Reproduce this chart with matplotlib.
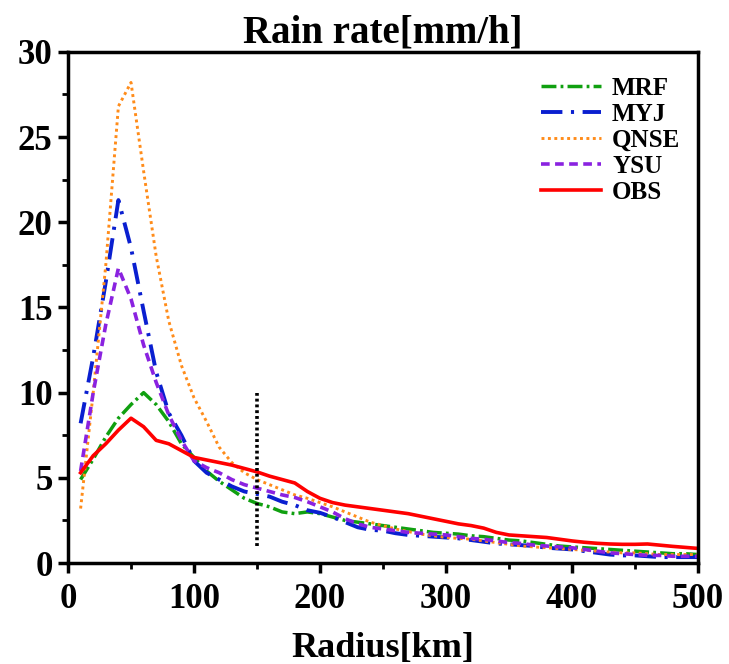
import numpy as np
import matplotlib.pyplot as plt
from matplotlib.ticker import MultipleLocator

plt.rcParams['font.family'] = ['Liberation Serif', 'DejaVu Serif']
plt.rcParams['font.weight'] = 'bold'

# Data (radius in km, rain rate in mm/h)
radius = np.arange(10, 501, 10)

mrf = [4.9, 6.1, 7.4, 8.5, 9.3, 10.0, 9.3, 8.3, 7.0, 6.2,
       5.4, 4.8, 4.3, 3.8, 3.5, 3.3, 3.0, 2.9, 3.0, 2.9,
       2.7, 2.5, 2.4, 2.3, 2.2, 2.1, 2.0, 1.9, 1.8, 1.75,
       1.7, 1.6, 1.55, 1.45, 1.35, 1.3, 1.2, 1.1, 1.0, 0.95,
       0.9, 0.85, 0.8, 0.75, 0.7, 0.65, 0.6, 0.55, 0.55, 0.5]
myj = [8.2, 12.1, 16.5, 21.3, 18.5, 14.8, 11.2, 8.8, 7.5, 6.0,
       5.3, 4.9, 4.5, 4.2, 4.05, 3.9, 3.6, 3.4, 3.1, 2.95,
       2.7, 2.4, 2.1, 1.95, 1.9, 1.75, 1.65, 1.6, 1.55, 1.5,
       1.45, 1.35, 1.25, 1.15, 1.1, 1.05, 1.0, 0.9, 0.85, 0.8,
       0.7, 0.6, 0.5, 0.45, 0.45, 0.4, 0.35, 0.35, 0.35, 0.35]
qnse = [3.2, 10.0, 17.5, 26.8, 28.2, 23.0, 18.0, 14.2, 11.6, 9.7,
        8.3, 6.8, 5.9, 5.3, 4.9, 4.6, 4.3, 4.0, 3.8, 3.55,
        3.3, 3.0, 2.7, 2.4, 2.2, 2.0, 1.85, 1.7, 1.6, 1.5,
        1.45, 1.4, 1.3, 1.2, 1.1, 1.0, 0.95, 0.9, 0.85, 0.8,
        0.75, 0.7, 0.65, 0.6, 0.6, 0.55, 0.5, 0.5, 0.5, 0.5]
ysu = [5.4, 10.0, 14.0, 17.3, 15.5, 12.8, 10.6, 8.7, 7.2, 6.0,
       5.6, 5.3, 4.9, 4.6, 4.4, 4.2, 4.0, 3.85, 3.6, 3.3,
       3.0, 2.6, 2.3, 2.1, 2.0, 1.9, 1.8, 1.75, 1.7, 1.65,
       1.55, 1.45, 1.4, 1.3, 1.2, 1.15, 1.05, 1.0, 0.95, 0.9,
       0.8, 0.7, 0.6, 0.55, 0.5, 0.45, 0.45, 0.4, 0.4, 0.4]
obs = [5.3, 6.3, 7.0, 7.8, 8.5, 8.0, 7.2, 7.0, 6.6, 6.2,
       6.05, 5.9, 5.75, 5.55, 5.35, 5.1, 4.9, 4.7, 4.2, 3.8,
       3.55, 3.4, 3.3, 3.2, 3.1, 3.0, 2.9, 2.75, 2.6, 2.45,
       2.3, 2.2, 2.05, 1.8, 1.65, 1.6, 1.55, 1.5, 1.4, 1.3,
       1.22, 1.16, 1.12, 1.1, 1.1, 1.12, 1.05, 0.98, 0.92, 0.86]

fig = plt.figure(figsize=(7.29, 6.64), dpi=100)
ax = fig.add_axes([0.0933, 0.152, 0.864, 0.770])

ax.plot(radius, mrf, color='#10a010', lw=2.5, dashes=(4.3, 1.2, 0.8, 1.2), label='MRF')
ax.plot(radius, myj, color='#0a1fd0', lw=2.8, dashes=(5.5, 2.2, 0.8, 2.2), label='MYJ')
ax.plot(radius, qnse, color='#ff8c1a', lw=2.1, dashes=(1, 1.2), label='QNSE')
ax.plot(radius, ysu, color='#8a22e0', lw=2.6, dashes=(2.4, 1.5), label='YSU')
ax.plot(radius, obs, color='#ff0000', lw=2.6, label='OBS')

# marker for 150 km radius
ax.plot([150, 150], [1, 10], color='black', lw=2.6, dashes=(0.8, 0.8))

ax.set_xlim(0, 500)
ax.set_ylim(0, 30)
ax.xaxis.set_major_locator(MultipleLocator(100))
ax.xaxis.set_minor_locator(MultipleLocator(50))
ax.yaxis.set_major_locator(MultipleLocator(5))
ax.yaxis.set_minor_locator(MultipleLocator(2.5))
ax.tick_params(which='major', direction='out', length=7, width=2.5,
               labelsize=25, top=False, right=False)
ax.tick_params(axis='x', which='major', pad=7)
ax.tick_params(axis='y', which='major', pad=4)
ax.tick_params(which='minor', direction='out', length=4, width=2,
               top=False, right=False)
for lab in ax.get_xticklabels() + ax.get_yticklabels():
    lab.set_fontweight('bold')
for s in ax.spines.values():
    s.set_linewidth(2.5)

ax.set_title('Rain rate[mm/h]', fontsize=28, fontweight='bold', pad=4)
ax.set_xlabel('Radius[km]', fontsize=26, fontweight='bold', labelpad=12)

ax.legend(loc='upper right', bbox_to_anchor=(1.0, 0.985), frameon=False,
          handlelength=2.4, handletextpad=0.45, labelspacing=0.12,
          borderaxespad=0.3, prop={'weight': 'bold', 'size': 18})

fig.savefig('out.png', dpi=100)
